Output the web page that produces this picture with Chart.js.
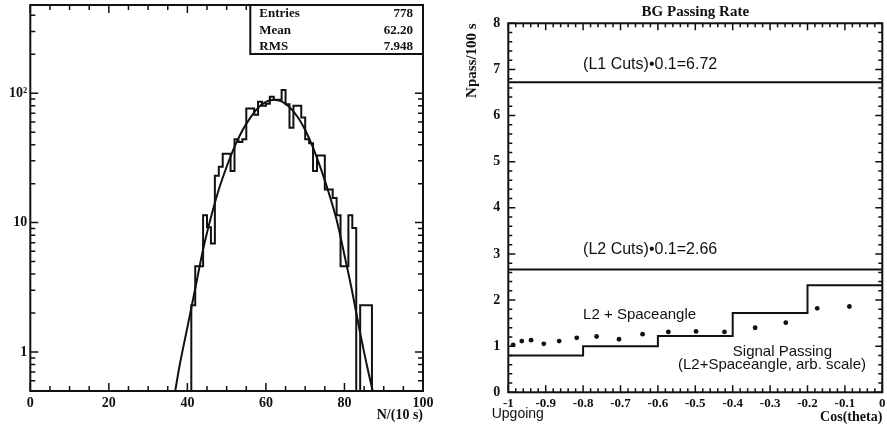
<!DOCTYPE html>
<html>
<head>
<meta charset="utf-8">
<script src="https://cdn.jsdelivr.net/npm/chart.js@4.4.1/dist/chart.umd.min.js"></script>
<style>
  body { margin: 0; background: #fff; }
  canvas { position: absolute; top: 0; }
</style>
</head>
<body>
<canvas id="hist" width="440" height="426" style="left:0"></canvas>
<canvas id="rate" width="447" height="426" style="left:440px"></canvas>
<script>
// Histograma N/(10 s) - bins de largura 1 a partir de 41
const binStart = 41;
const binCounts = [2.3, 4.6, 4.6, 11.4, 9.2, 6.9, 23, 27, 34, 34, 25, 44, 42, 44, 76, 76, 68, 86, 80, 83,
  94, 89, 89, 106, 82, 54, 80, 80, 65, 44, 41, 25, 33, 33, 18, 18, 15.5, 11.4, 4.6, 4.6, 11.4, 9.1, 0, 2.3, 2.3, 2.3];
// Curva de ajuste
const fitX = [36.9, 38, 40, 42, 44, 46, 48, 50, 52, 54, 56, 58, 60, 62, 64, 66, 68, 70, 72, 74, 76, 78, 80, 82, 84, 86, 87.2];
const fitY = [0.5, 0.78, 1.55, 3.1, 6.2, 11, 18, 27, 38.5, 51.5, 64.5, 77, 85.5, 89, 86.5, 78, 66, 52, 38, 26, 17, 10.5, 5.6, 2.9, 1.4, 0.72, 0.5];
const histTicks = [1, 10, 100];
const histTickLabels = ['1', '10', '10²'];
const statLabels = ['Entries', 'Mean', 'RMS'];
const statValues = ['778', '62.20', '7.948'];

// BG Passing Rate
const l1Rate = 6.72;
const l2Rate = 2.66;
const stepEdges = [-1, -0.8, -0.6, -0.4, -0.2, 0];
const stepRates = [0.8, 1.0, 1.22, 1.72, 2.32];
const signalCos = [-0.987, -0.964, -0.939, -0.905, -0.864, -0.817, -0.764, -0.704, -0.641, -0.572, -0.498, -0.422, -0.340, -0.258, -0.174, -0.088];
const signalRate = [1.03, 1.11, 1.13, 1.05, 1.11, 1.18, 1.21, 1.15, 1.26, 1.31, 1.32, 1.31, 1.40, 1.51, 1.82, 1.86];

const INK = '#111';
const SERIF = 'Liberation Serif';
const SANS = 'Liberation Sans';
const histMin = 0.5;
const histMax = 480;

// Sem folga extra das escalas, a área do gráfico fica onde queremos
const noPadY = w => s => { s.width = w; s.paddingTop = 0; s.paddingBottom = 0; };
const noPadX = h => s => { s.height = h; s.paddingLeft = 0; s.paddingRight = 0; };

// Moldura + ticks para dentro nos quatro lados
const frameTicks = {
  id: 'frameTicks',
  afterDatasetsDraw(chart, args, opts) {
    const { ctx, chartArea: a, scales: { x, y } } = chart;
    ctx.save();
    ctx.strokeStyle = INK;
    ctx.lineWidth = 1.5;
    ctx.beginPath();
    const vTick = (px, len) => {
      ctx.moveTo(px, a.bottom); ctx.lineTo(px, a.bottom - len);
      ctx.moveTo(px, a.top); ctx.lineTo(px, a.top + len);
    };
    const hTick = (py, len) => {
      ctx.moveTo(a.left, py); ctx.lineTo(a.left + len, py);
      ctx.moveTo(a.right, py); ctx.lineTo(a.right - len, py);
    };
    const xt = x.ticks.map(t => t.value);
    xt.forEach((v, i) => {
      vTick(x.getPixelForValue(v), opts.major);
      if (i < xt.length - 1) {
        for (let k = 1; k < opts.xMinor; k++) {
          vTick(x.getPixelForValue(v + (xt[i + 1] - v) * k / opts.xMinor), opts.minor);
        }
      }
    });
    if (opts.logY) {
      for (let e = Math.floor(Math.log10(y.min)); e <= Math.ceil(Math.log10(y.max)); e++) {
        for (let m = 1; m < 10; m++) {
          const v = m * Math.pow(10, e);
          if (v <= y.min || v >= y.max) continue;
          hTick(y.getPixelForValue(v), m === 1 ? opts.major : opts.minor);
        }
      }
    } else {
      const yt = y.ticks.map(t => t.value);
      yt.forEach((v, i) => {
        hTick(y.getPixelForValue(v), opts.major);
        if (i < yt.length - 1) {
          for (let k = 1; k < opts.yMinor; k++) {
            hTick(y.getPixelForValue(v + (yt[i + 1] - v) * k / opts.yMinor), opts.minor);
          }
        }
      });
    }
    ctx.stroke();
    ctx.lineWidth = 2;
    ctx.strokeRect(a.left, a.top, a.width, a.height);

    // Caixa de estatísticas
    if (opts.stats) {
      const bx = a.left + 220;
      ctx.fillStyle = '#fff';
      ctx.fillRect(bx, a.top, a.right - bx, 49);
      ctx.strokeRect(bx, a.top, a.right - bx, 49);
      ctx.fillStyle = INK;
      ctx.font = 'bold 13px "' + SERIF + '"';
      ctx.textBaseline = 'middle';
      statLabels.forEach((s, i) => {
        const ty = a.top + 8.5 + i * 16.7;
        ctx.textAlign = 'left';
        ctx.fillText(s, bx + 9, ty);
        ctx.textAlign = 'right';
        ctx.fillText(statValues[i], a.right - 10, ty);
      });
    }

    // Textos dentro do gráfico
    (opts.notes || []).forEach(n => {
      ctx.fillStyle = INK;
      ctx.font = n.font;
      ctx.textAlign = n.align;
      ctx.textBaseline = 'middle';
      ctx.fillText(n.text, x.getPixelForValue(n.x), y.getPixelForValue(n.y));
    });
    if (opts.under) {
      ctx.font = opts.under.font;
      ctx.textAlign = 'left';
      ctx.textBaseline = 'middle';
      ctx.fillText(opts.under.text, a.left + opts.under.dx, a.bottom + opts.under.dy);
    }
    ctx.restore();
  }
};

// Gráfico 1: histograma (bins vazios vão até o piso do eixo log)
const histPoints = [{ x: binStart, y: histMin }];
binCounts.forEach((c, i) => histPoints.push({ x: binStart + i, y: c > 0 ? c : histMin }));
histPoints.push({ x: binStart + binCounts.length, y: histMin });

new Chart(document.getElementById('hist').getContext('2d'), {
  type: 'line',
  data: {
    datasets: [{
      data: histPoints,
      stepped: true,
      borderColor: INK,
      borderWidth: 2,
      pointRadius: 0,
      fill: false
    }, {
      data: fitX.map((v, i) => ({ x: v, y: fitY[i] })),
      borderColor: INK,
      borderWidth: 2,
      pointRadius: 0,
      cubicInterpolationMode: 'monotone',
      fill: false
    }]
  },
  options: {
    responsive: false,
    animation: false,
    devicePixelRatio: 1,
    layout: { padding: { left: 0, right: 17, top: 5, bottom: 0 } },
    plugins: {
      legend: { display: false },
      tooltip: { enabled: false },
      frameTicks: { major: 8, minor: 5, xMinor: 4, logY: true, stats: true }
    },
    scales: {
      x: {
        type: 'linear', min: 0, max: 100,
        grid: { display: false, drawTicks: false },
        border: { display: false },
        ticks: { stepSize: 20, padding: 4, color: INK, font: { family: SERIF, weight: 'bold', size: 14 } },
        title: { display: true, text: 'N/(10 s)', align: 'end', color: INK, padding: { top: 0, bottom: 2 },
          font: { family: SERIF, weight: 'bold', size: 14 } },
        afterFit: noPadX(35)
      },
      y: {
        type: 'logarithmic', min: histMin, max: histMax,
        grid: { display: false, drawTicks: false },
        border: { display: false },
        ticks: {
          autoSkip: false, padding: 3, color: INK,
          font: { family: SERIF, weight: 'bold', size: 14 },
          callback: v => {
            const i = histTicks.indexOf(v);
            return i >= 0 ? histTickLabels[i] : '';
          }
        },
        afterFit: noPadY(30.3)
      }
    }
  },
  plugins: [frameTicks]
});

// Gráfico 2: BG Passing Rate
const stepPoints = stepRates.map((r, i) => ({ x: stepEdges[i], y: r }));
stepPoints.push({ x: stepEdges[stepEdges.length - 1], y: stepRates[stepRates.length - 1] });
const xMin = stepEdges[0];
const xMax = stepEdges[stepEdges.length - 1];
const noteFont = '15px "' + SANS + '"';
const cutFont = '16px "' + SANS + '"';

new Chart(document.getElementById('rate').getContext('2d'), {
  type: 'line',
  data: {
    datasets: [{
      data: [{ x: xMin, y: l1Rate }, { x: xMax, y: l1Rate }],
      borderColor: INK, borderWidth: 2, pointRadius: 0
    }, {
      data: [{ x: xMin, y: l2Rate }, { x: xMax, y: l2Rate }],
      borderColor: INK, borderWidth: 2, pointRadius: 0
    }, {
      data: stepPoints,
      stepped: true,
      borderColor: INK, borderWidth: 2, pointRadius: 0
    }, {
      data: signalCos.map((c, i) => ({ x: c, y: signalRate[i] })),
      showLine: false,
      pointRadius: 2.4,
      pointBorderWidth: 0,
      pointBackgroundColor: INK
    }]
  },
  options: {
    responsive: false,
    animation: false,
    devicePixelRatio: 1,
    layout: { padding: { left: 0, right: 4.7, top: 0, bottom: 0 } },
    plugins: {
      legend: { display: false },
      tooltip: { enabled: false },
      title: {
        display: true, text: 'BG Passing Rate', color: INK, fullSize: false,
        padding: { top: 3, bottom: 2.3 },
        font: { family: SERIF, weight: 'bold', size: 15 }
      },
      frameTicks: {
        major: 7, minor: 4, xMinor: 5, yMinor: 5, logY: false,
        notes: [
          { text: '(L1 Cuts)•0.1=6.72', x: -0.8, y: 7.1, align: 'left', font: cutFont },
          { text: '(L2 Cuts)•0.1=2.66', x: -0.8, y: 3.09, align: 'left', font: cutFont },
          { text: 'L2 + Spaceangle', x: -0.8, y: 1.68, align: 'left', font: noteFont },
          { text: 'Signal Passing', x: -0.267, y: 0.88, align: 'center', font: noteFont },
          { text: '(L2+Spaceangle, arb. scale)', x: -0.295, y: 0.59, align: 'center', font: noteFont }
        ],
        under: { text: 'Upgoing', dx: -16.6, dy: 22, font: '14px "' + SANS + '"' }
      }
    },
    scales: {
      x: {
        type: 'linear', min: xMin, max: xMax,
        grid: { display: false, drawTicks: false },
        border: { display: false },
        ticks: {
          stepSize: 0.1, autoSkip: false, maxRotation: 0, padding: 4, color: INK,
          font: { family: SERIF, weight: 'bold', size: 13 },
          callback: v => Number(v.toFixed(1)).toString()
        },
        title: { display: true, text: 'Cos(theta)', align: 'end', color: INK, padding: { top: 0, bottom: 0.6 },
          font: { family: SERIF, weight: 'bold', size: 14 } },
        afterFit: noPadX(33.7)
      },
      y: {
        type: 'linear', min: 0, max: 8,
        grid: { display: false, drawTicks: false },
        border: { display: false },
        ticks: { stepSize: 1, padding: 8, color: INK, font: { family: SERIF, weight: 'bold', size: 14 } },
        title: { display: true, text: 'Npass/100 s', align: 'end', color: INK, padding: { top: 22.7, bottom: 0 },
          font: { family: SERIF, weight: 'bold', size: 15 } },
        afterFit: noPadY(68.3)
      }
    }
  },
  plugins: [frameTicks]
});
</script>
</body>
</html>
